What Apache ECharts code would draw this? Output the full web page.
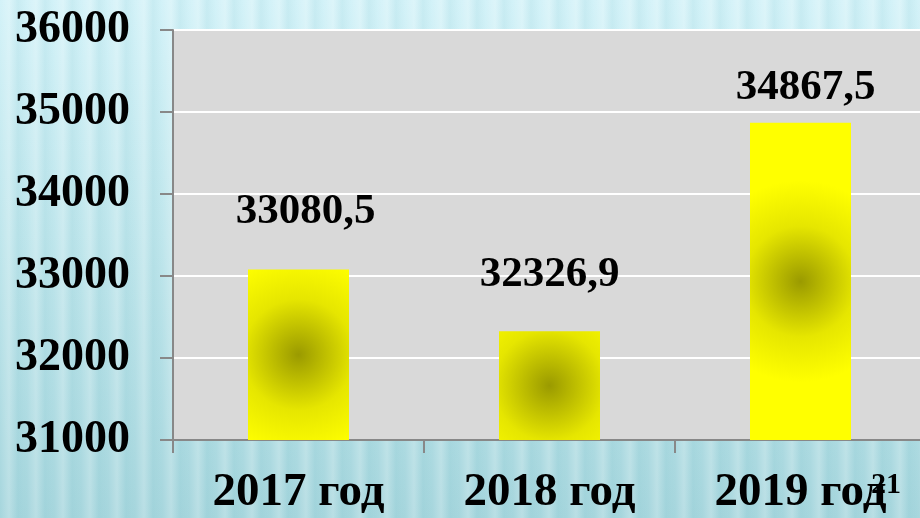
<!DOCTYPE html>
<html>
<head>
<meta charset="utf-8">
<script src="https://cdn.jsdelivr.net/npm/echarts@6/dist/echarts.min.js"></script>
<style>
html,body{margin:0;padding:0;width:920px;height:518px;overflow:hidden;}
body{
  background:
    repeating-linear-gradient(90deg, rgba(255,255,255,0.0) 0px, rgba(255,255,255,0.22) 9px, rgba(120,190,200,0.12) 18px, rgba(255,255,255,0.0) 27px),
    linear-gradient(180deg, #d3f2f8 0%, #bfe6ec 45%, #a6d6dd 100%);
}
#chart{width:920px;height:518px;}
</style>
</head>
<body>
<div id="chart"></div>
<script>
const categories = ['2017 год', '2018 год', '2019 год'];
const values = [33080.5, 32326.9, 34867.5];
const valueLabels = ['33080,5', '32326,9', '34867,5'];
const yTicks = [31000, 32000, 33000, 34000, 35000, 36000];
const slideNumber = '21';

const labelDistances = [36, 35, 13];
const labelOffsets = [[7, 0], [0, 0], [5, 0]];

const chart = echarts.init(document.getElementById('chart'), null, {renderer: 'canvas'});
const font = 'Liberation Serif, Times New Roman, serif';

const barColor = {
  type: 'radial', x: 0.5, y: 0.5, r: 1.0,
  colorStops: [
    {offset: 0, color: '#9a9a00'},
    {offset: 0.55, color: '#e6e600'},
    {offset: 1, color: '#ffff00'}
  ]
};

chart.setOption({
  backgroundColor: 'transparent',
  animation: false,
  grid: {
    left: 173, top: 30, width: 753, height: 410,
    containLabel: false, outerBoundsMode: 'none',
    show: true, backgroundColor: '#d9d9d9', borderWidth: 0
  },
  xAxis: {
    type: 'category',
    data: categories,
    axisLine: {show: true, lineStyle: {color: '#888888', width: 2}},
    axisTick: {show: true, length: 13, alignWithLabel: false, lineStyle: {color: '#888888', width: 2}},
    axisLabel: {
      margin: 29, color: '#000', fontFamily: font, fontWeight: 'bold', fontSize: 47
    }
  },
  yAxis: {
    type: 'value',
    min: yTicks[0], max: yTicks[yTicks.length - 1], interval: 1000,
    axisLine: {show: true, lineStyle: {color: '#888888', width: 2}},
    axisTick: {show: true, length: 13, lineStyle: {color: '#888888', width: 2}},
    splitLine: {show: true, lineStyle: {color: '#ffffff', width: 2}},
    axisLabel: {
      margin: 43, color: '#000', fontFamily: font, fontWeight: 'bold', fontSize: 46,
      formatter: v => String(v)
    }
  },
  series: [{
    type: 'bar',
    barWidth: 101,
    data: values.map((v, i) => ({
      value: v,
      label: {
        show: true, position: 'top', distance: labelDistances[i], offset: labelOffsets[i],
        formatter: valueLabels[i],
        color: '#000', fontFamily: font, fontWeight: 'bold', fontSize: 43
      }
    })),
    itemStyle: {color: barColor}
  }],
  graphic: [{
    type: 'text', left: 871, top: 470, z: 100, zlevel: 1,
    style: {text: slideNumber, fill: '#000', font: 'bold 30px ' + font}
  }]
});
</script>
</body>
</html>
